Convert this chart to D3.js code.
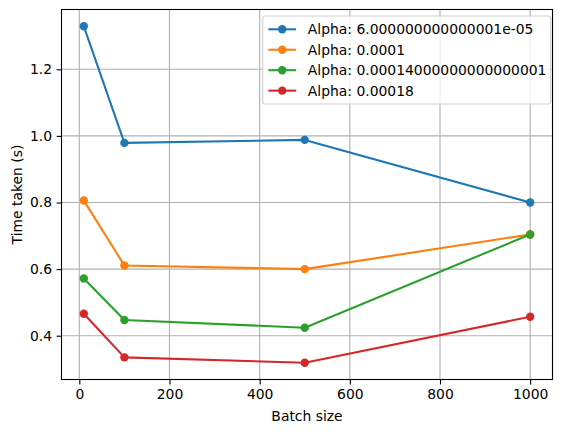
<!DOCTYPE html>
<html>
<head>
<meta charset="utf-8">
<script src="https://cdn.jsdelivr.net/npm/d3@7"></script>
<style>
  body { margin: 0; background: #fff; }
  svg { display: block; font-family: "DejaVu Sans", sans-serif; }
</style>
</head>
<body>
<svg id="chart" width="567" height="432"></svg>
<script>
// Batch sizes on the x axis
const batchSizes = [10, 100, 500, 1000];

// Legend labels, one per series
const alphaLabels = [
    'Alpha: 6.000000000000001e-05',
    'Alpha: 0.0001',
    'Alpha: 0.00014000000000000001',
    'Alpha: 0.00018'
];

// Time taken (s) per series
const timesAlpha1 = [1.329, 0.979, 0.988, 0.800];
const timesAlpha2 = [0.806, 0.611, 0.600, 0.704];
const timesAlpha3 = [0.572, 0.447, 0.424, 0.704];
const timesAlpha4 = [0.466, 0.335, 0.319, 0.457];

const xTicks = [0, 200, 400, 600, 800, 1000];
const yTicks = [0.4, 0.6, 0.8, 1.0, 1.2];

const colors = ['#1f77b4', '#ff7f0e', '#2ca02c', '#d62728'];

const series = [timesAlpha1, timesAlpha2, timesAlpha3, timesAlpha4].map((vals, i) => ({
    label: alphaLabels[i],
    color: colors[i],
    points: vals.map((v, j) => ({ x: batchSizes[j], y: v }))
}));

const plot = { left: 61.5, right: 552.5, top: 9.5, bottom: 379.5 };
const fontSize = 13.9;

const svg = d3.select('#chart');

// matplotlib-style 5% margins
const xMin = d3.min(batchSizes), xMax = d3.max(batchSizes);
const allY = series.flatMap(s => s.points.map(p => p.y));
const yMin = d3.min(allY), yMax = d3.max(allY);
const xPad = (xMax - xMin) * 0.05, yPad = (yMax - yMin) * 0.05;

const x = d3.scaleLinear()
    .domain([xMin - xPad, xMax + xPad])
    .range([plot.left, plot.right]);

const y = d3.scaleLinear()
    .domain([yMin - yPad, yMax + yPad])
    .range([plot.bottom, plot.top]);

// Grid
const grid = svg.append('g');
xTicks.forEach(t => {
    grid.append('line')
        .attr('x1', x(t)).attr('x2', x(t))
        .attr('y1', plot.top).attr('y2', plot.bottom)
        .attr('stroke', '#b0b0b0').attr('stroke-width', 1.1);
});
yTicks.forEach(t => {
    grid.append('line')
        .attr('x1', plot.left).attr('x2', plot.right)
        .attr('y1', y(t)).attr('y2', y(t))
        .attr('stroke', '#b0b0b0').attr('stroke-width', 1.1);
});

// Axes
const xAxis = d3.axisBottom(x).tickValues(xTicks).tickSize(4.9).tickPadding(4.5)
    .tickFormat(d3.format('d'));
const yAxis = d3.axisLeft(y).tickValues(yTicks).tickSize(4.9).tickPadding(4.5)
    .tickFormat(d3.format('.1f'));

const gx = svg.append('g')
    .attr('transform', `translate(0,${plot.bottom})`)
    .call(xAxis);
const gy = svg.append('g')
    .attr('transform', `translate(${plot.left},0)`)
    .call(yAxis);

[gx, gy].forEach(g => {
    g.select('.domain').remove();
    g.selectAll('line').attr('stroke', '#000').attr('stroke-width', 1.1);
    g.selectAll('text')
        .attr('fill', '#000')
        .style('font-size', `${fontSize}px`)
        .style('font-family', '"DejaVu Sans", sans-serif');
});
gx.selectAll('text').attr('dy', '0.76em');

// Lines and markers
const line = d3.line().x(d => x(d.x)).y(d => y(d.y));

series.forEach(s => {
    svg.append('path')
        .datum(s.points)
        .attr('d', line)
        .attr('fill', 'none')
        .attr('stroke', s.color)
        .attr('stroke-width', 2.08)
        .attr('stroke-linejoin', 'round')
        .attr('stroke-linecap', 'square');

    svg.selectAll(null)
        .data(s.points)
        .join('circle')
        .attr('cx', d => x(d.x))
        .attr('cy', d => y(d.y))
        .attr('r', 4.2)
        .attr('fill', s.color);
});

// Spines
svg.append('rect')
    .attr('x', plot.left).attr('y', plot.top)
    .attr('width', plot.right - plot.left)
    .attr('height', plot.bottom - plot.top)
    .attr('fill', 'none')
    .attr('stroke', '#000')
    .attr('stroke-width', 1.1);

// Axis labels
svg.append('text')
    .attr('x', (plot.left + plot.right) / 2)
    .attr('y', 421)
    .attr('text-anchor', 'middle')
    .style('font-size', `${fontSize}px`)
    .text('Batch size');

svg.append('text')
    .attr('transform', `translate(22,${(plot.top + plot.bottom) / 2}) rotate(-90)`)
    .attr('text-anchor', 'middle')
    .style('font-size', `${fontSize}px`)
    .text('Time taken (s)');

// Legend
const legend = { x: 262.7, y: 16, w: 288, h: 88, rowY: 29.3, rowStep: 20.45 };

svg.append('rect')
    .attr('x', legend.x).attr('y', legend.y)
    .attr('width', legend.w).attr('height', legend.h)
    .attr('rx', 2.8)
    .attr('fill', 'rgba(255,255,255,0.8)')
    .attr('stroke', '#d0d0d0')
    .attr('stroke-width', 1.1);

series.forEach((s, i) => {
    const ry = legend.rowY + i * legend.rowStep;
    const row = svg.append('g');
    row.append('line')
        .attr('x1', 268.3).attr('x2', 296.1)
        .attr('y1', ry).attr('y2', ry)
        .attr('stroke', s.color).attr('stroke-width', 2.08);
    row.append('circle')
        .attr('cx', 282.2).attr('cy', ry).attr('r', 4.2)
        .attr('fill', s.color);
    row.append('text')
        .attr('x', 307.8)
        .attr('y', ry)
        .attr('dy', '0.36em')
        .style('font-size', `${fontSize}px`)
        .text(s.label);
});
</script>
</body>
</html>
